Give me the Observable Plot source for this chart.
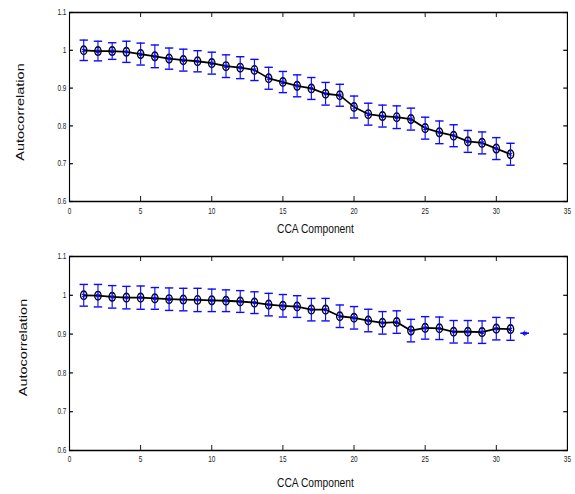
<!DOCTYPE html>
<html>
<head>
<meta charset="utf-8">
<script src="https://cdn.jsdelivr.net/npm/d3@7"></script>
<script src="https://cdn.jsdelivr.net/npm/@observablehq/plot@0.6"></script>
<style>
  html, body { margin: 0; padding: 0; background: white; }
  #wrap { width: 575px; height: 494px; overflow: hidden; position: relative; background: white; }
  #inner { width: 757px; transform: scale(0.7596, 1); transform-origin: 0 0; }
  #inner svg { display: block; max-width: none; }
</style>
</head>
<body>
<div id="wrap"><div id="inner"></div></div>
<script>
// ---- data ----
const components = [1,2,3,4,5,6,7,8,9,10,11,12,13,14,15,16,17,18,19,20,21,22,23,24,25,26,27,28,29,30,31,32];
const topMean = [1.000,0.998,0.998,0.996,0.990,0.984,0.978,0.974,0.971,0.966,0.958,0.954,0.948,0.926,0.916,
                 0.906,0.899,0.885,0.881,0.850,0.831,0.826,0.823,0.818,0.794,0.783,0.774,0.759,0.755,0.740,0.725];
const topErr  = [0.027,0.026,0.022,0.028,0.029,0.030,0.028,0.029,0.028,0.029,0.030,0.029,0.028,0.029,0.028,
                 0.029,0.029,0.030,0.029,0.029,0.029,0.029,0.030,0.029,0.029,0.030,0.029,0.029,0.029,0.029,0.029];
const bottomMean = [1.000,0.999,0.996,0.994,0.994,0.992,0.990,0.989,0.988,0.987,0.986,0.984,0.981,0.976,0.973,
                    0.971,0.963,0.963,0.946,0.942,0.935,0.929,0.931,0.909,0.916,0.915,0.906,0.906,0.905,0.914,0.913,0.902];
const bottomErr  = [0.028,0.029,0.029,0.029,0.030,0.028,0.029,0.029,0.030,0.029,0.028,0.028,0.028,0.029,0.029,
                    0.028,0.029,0.029,0.029,0.029,0.029,0.029,0.029,0.029,0.029,0.029,0.029,0.029,0.029,0.029,0.029,0.000];
const lineCount = 31;
const xTicks = [0,5,10,15,20,25,30,35];
const yTicks = [0.6,0.7,0.8,0.9,1,1.1];
const xLabel = "CCA Component";
const yLabel = "Autocorrelation";

// ---- style ----
const W = 757;
const BLUE = "#0a0aff";
const FONT = "Liberation Sans, Arial, Helvetica, sans-serif";
const capSymbol = {
  draw(context, size) {
    const w = Math.sqrt(size / Math.PI);
    context.moveTo(-w, 0);
    context.lineTo(w, 0);
  }
};

function panel({mean, err, height, marginTop, marginBottom, tickPad, xLabelDy, yLabelDx, yLabelDy}) {
  const marginLeft = 91, marginRight = 10.5;
  const fh = height - marginTop - marginBottom;
  const fw = W - marginLeft - marginRight;
  const rows = mean.map((m, i) => ({x: components[i], y: m, e: err[i]}));
  const lineRows = rows.slice(0, lineCount);
  const tl = 5;
  return Plot.plot({
    width: W, height, marginTop, marginBottom, marginLeft, marginRight,
    style: {fontFamily: FONT, background: "white", maxWidth: "none", overflow: "visible"},
    x: {domain: [0, 35], nice: false},
    y: {domain: [0.6, 1.1], nice: false},
    marks: [
      Plot.axisX({ticks: xTicks, tickSize: 0, tickPadding: tickPad, label: null, fontSize: 8.5, fill: "#222"}),
      Plot.axisY({ticks: yTicks, tickSize: 0, tickPadding: 4, label: null, fontSize: 8.5, fill: "#222", tickFormat: d => String(d)}),
      Plot.tickX(xTicks, {x: d => d, insetTop: fh - tl, stroke: "black", strokeWidth: 1.2}),
      Plot.tickX(xTicks, {x: d => d, insetBottom: fh - tl, stroke: "black", strokeWidth: 1.2}),
      Plot.tickY(yTicks, {y: d => d, insetRight: fw - tl, stroke: "black", strokeWidth: 1.2}),
      Plot.tickY(yTicks, {y: d => d, insetLeft: fw - tl, stroke: "black", strokeWidth: 1.2}),
      Plot.frame({stroke: "black", strokeWidth: 1.5}),
      Plot.line(lineRows, {x: "x", y: "y", stroke: "black", strokeWidth: 1.8}),
      Plot.dot(lineRows, {x: "x", y: "y", r: 4.2, stroke: "black", strokeWidth: 1.7, fill: "none"}),
      Plot.ruleX(rows, {x: "x", y1: d => d.y - d.e, y2: d => d.y + d.e, stroke: BLUE, strokeWidth: 1.5}),
      Plot.dot(rows, {x: "x", y: d => d.y - d.e, symbol: capSymbol, r: 5.5, stroke: BLUE, strokeWidth: 1.4}),
      Plot.dot(rows, {x: "x", y: d => d.y + d.e, symbol: capSymbol, r: 5.5, stroke: BLUE, strokeWidth: 1.4}),
      Plot.dot(rows, {x: "x", y: "y", symbol: "asterisk", r: 2.6, stroke: BLUE, strokeWidth: 1.1}),
      Plot.text([xLabel], {frameAnchor: "bottom", text: d => d, dy: xLabelDy, dx: -4, fontSize: 13.5, fill: "#111"}),
      Plot.text([yLabel], {frameAnchor: "left", textAnchor: "middle", text: d => d, rotate: -90, dx: yLabelDx, dy: yLabelDy, fontSize: 14.5, fill: "#111"})
    ]
  });
}

const inner = document.getElementById("inner");
inner.append(panel({mean: topMean, err: topErr, height: 240, marginTop: 12, marginBottom: 39, tickPad: 6, xLabelDy: 31, yLabelDx: -65, yLabelDy: 5}));
inner.append(panel({mean: bottomMean, err: bottomErr, height: 254, marginTop: 16, marginBottom: 44, tickPad: 5, xLabelDy: 36, yLabelDx: -61, yLabelDy: -6}));
</script>
</body>
</html>
